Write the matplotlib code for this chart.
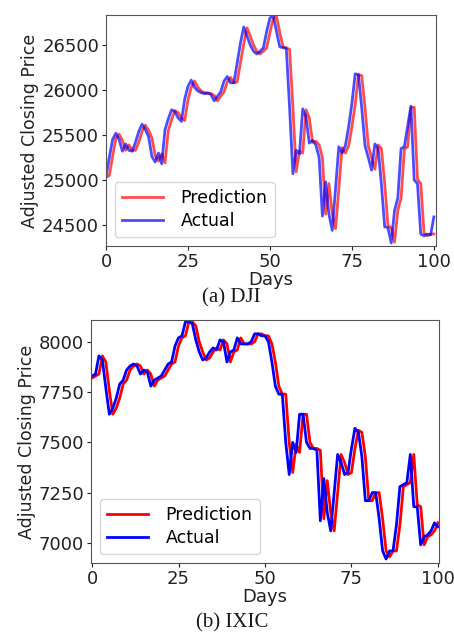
import matplotlib.pyplot as plt
import numpy as np

days = np.arange(101)

dji_actual = [
    25040, 25250, 25450, 25520, 25450, 25320, 25400, 25330, 25320, 25420,
    25540, 25620, 25560, 25480, 25260, 25200, 25300, 25180, 25560, 25680,
    25780, 25760, 25690, 25650, 25900, 26040, 26110, 26030, 25990, 25970,
    25960, 25970, 25950, 25880, 25930, 25980, 26100, 26150, 26080, 26080,
    26300, 26520, 26700, 26600, 26500, 26430, 26400, 26430, 26470, 26650,
    26800, 26830, 26650, 26480, 26470, 26460, 25800, 25070, 25330, 25290,
    25790, 25700, 25410, 25440, 25390, 25250, 24600, 24980, 24620, 24440,
    24900, 25370, 25300, 25380, 25590, 25850, 26180, 26170, 25800, 25380,
    25250, 25110, 25400, 25350, 24950, 24480, 24470, 24300, 24660, 24800,
    25350, 25370, 25600, 25820, 25000, 24960, 24400, 24380, 24400, 24390,
    24590,
]
dji_pred = [
    25030, 25050, 25260, 25460, 25510, 25440, 25330, 25390, 25330, 25330,
    25420, 25540, 25610, 25550, 25470, 25270, 25210, 25290, 25190, 25550,
    25670, 25770, 25750, 25690, 25660, 25890, 26030, 26100, 26030, 25990,
    25970, 25960, 25960, 25940, 25880, 25930, 25980, 26090, 26140, 26080,
    26090, 26300, 26510, 26690, 26600, 26500, 26430, 26400, 26430, 26470,
    26640, 26790, 26820, 26640, 26480, 26470, 26450, 25810, 25090, 25320,
    25300, 25780, 25690, 25420, 25430, 25390, 25250, 24620, 24960, 24630,
    24460, 24900, 25360, 25300, 25380, 25590, 25840, 26170, 26160, 25800,
    25380, 25250, 25120, 25390, 25350, 24960, 24490, 24470, 24310, 24660,
    24800, 25340, 25370, 25800, 25810, 25010, 24960, 24410, 24380, 24400,
    24400,
]

ixic_actual = [
    7830, 7840, 7930, 7910, 7770, 7640, 7670, 7720, 7790, 7810,
    7860, 7880, 7890, 7880, 7840, 7860, 7850, 7780, 7810, 7820,
    7830, 7860, 7890, 7900, 7980, 8020, 8030, 8100, 8100, 8090,
    8010, 7950, 7910, 7920, 7950, 7970, 7960, 8010, 8000, 7900,
    7950, 7960, 8020, 7990, 7990, 7990, 8000, 8040, 8040, 8030,
    8030, 8000, 7900, 7780, 7740, 7740, 7500, 7340, 7500, 7450,
    7640, 7640, 7500, 7470, 7470, 7460, 7110, 7320, 7150, 7060,
    7250, 7440, 7400, 7340, 7350, 7470, 7570, 7550, 7430, 7210,
    7210, 7250, 7250, 7120, 6960, 6920, 6960, 6960, 7090, 7280,
    7290, 7300, 7440, 7180, 7180, 6990, 7030, 7040, 7060, 7100,
    7080,
]
ixic_pred = [
    7820, 7830, 7840, 7930, 7900, 7760, 7640, 7670, 7720, 7790,
    7810, 7860, 7880, 7890, 7880, 7840, 7860, 7840, 7780, 7810,
    7820, 7830, 7860, 7890, 7900, 7980, 8020, 8030, 8100, 8100,
    8080, 8000, 7950, 7910, 7920, 7950, 7970, 7960, 8010, 7990,
    7900, 7950, 7960, 8020, 7990, 7990, 7990, 8000, 8040, 8040,
    8030, 8030, 7990, 7900, 7780, 7740, 7740, 7500, 7350, 7490,
    7450, 7640, 7640, 7500, 7470, 7470, 7460, 7120, 7310, 7150,
    7060, 7250, 7440, 7400, 7340, 7350, 7470, 7560, 7550, 7430,
    7210, 7210, 7250, 7250, 7120, 6960, 6930, 6960, 6960, 7090,
    7280, 7290, 7300, 7440, 7190, 7180, 6990, 7030, 7040, 7060,
    7100,
]

fig = plt.figure(figsize=(4.54, 6.34), dpi=100)
ax1 = fig.add_axes([0.2335, 0.612, 0.7265, 0.3643])
ax2 = fig.add_axes([0.2004, 0.112, 0.7666, 0.3833])

panels = [
    (ax1, dji_pred, dji_actual, (24267, 26833), (0, 100.6), [24500, 25000, 25500, 26000, 26500], 0.7),
    (ax2, ixic_pred, ixic_actual, (6900, 8109), (-0.3, 100.3), [7000, 7250, 7500, 7750, 8000], 1.0),
]

for ax, pred, actual, ylim, xlim, yticks, alpha in panels:
    ax.plot(days, pred, color='red', lw=2.0, alpha=alpha, label='Prediction')
    ax.plot(days, actual, color='blue', lw=2.0, alpha=alpha, label='Actual')
    ax.set_xlim(*xlim)
    ax.set_ylim(*ylim)
    ax.set_xticks([0, 25, 50, 75, 100])
    ax.set_yticks(yticks)
    ax.tick_params(labelsize=13, length=3, pad=2, colors='#222222')
    for s in ax.spines.values():
        s.set_color('#555555')
    ax.set_xlabel('Days', fontsize=13, color='#222222', labelpad=0)
    ax.set_ylabel('Adjusted Closing Price', fontsize=12.5, color='#222222', labelpad=2)
    ax.legend(loc='lower left', fontsize=12.5, handlelength=2.4, handletextpad=1.0,
              borderaxespad=0.5, labelspacing=0.3, framealpha=0.8)

fig.text(0.509, 0.53, '(a) DJI', ha='center', va='center', fontsize=15,
         family='Liberation Serif', color='#1a1a1a')
fig.text(0.511, 0.018, '(b) IXIC', ha='center', va='center', fontsize=15,
         family='Liberation Serif', color='#1a1a1a')

plt.savefig('out.png', dpi=100)
